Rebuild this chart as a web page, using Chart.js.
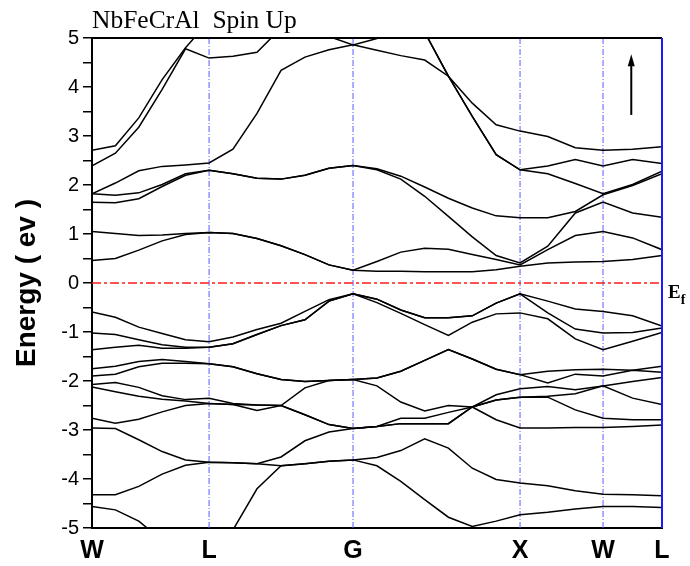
<!DOCTYPE html>
<html><head><meta charset="utf-8">
<script src="https://cdn.jsdelivr.net/npm/chart.js@4.4.1/dist/chart.umd.min.js"></script>
<style>html,body{margin:0;padding:0;background:#fff}#wrap{width:690px;height:566px;position:relative}</style>
</head><body><div id="wrap"><canvas id="c" width="690" height="566"></canvas></div>
<script>
// k-path distance of each computed k-point
const kPath = [0, 0.140, 0.280, 0.420, 0.560, 0.701, 0.844, 0.988, 1.132, 1.275, 1.419, 1.563,
  1.706, 1.849, 1.992, 2.134, 2.277, 2.420, 2.563, 2.729, 2.894, 3.060, 3.237, 3.413];
// high-symmetry points
const symPoints = [0, 0.701, 1.563, 2.563, 3.060, 3.413];
const symLabels = ['W', 'L', 'G', 'X', 'W', 'L'];
const yTicks = [5, 4, 3, 2, 1, 0, -1, -2, -3, -4, -5];
const fermiLevel = 0;
const arrowK = 3.229, arrowFrom = 3.43, arrowTo = 4.67;

// band energies (eV), lowest to highest
const band01 = [-4.56,-4.63,-4.86,-5.25,-5.50,-5.70,-5.04,-4.20,-3.73,-3.69,-3.64,-3.61,-3.73,-4.05,-4.42,-4.78,-4.97,-4.86,-4.73,-4.68,-4.61,-4.56,-4.56,-4.58];
const band02 = [-4.32,-4.32,-4.15,-3.90,-3.72,-3.66,-3.67,-3.69,-3.73,-3.69,-3.64,-3.61,-3.56,-3.42,-3.18,-3.37,-3.78,-4.01,-4.08,-4.14,-4.24,-4.31,-4.32,-4.34];
const band03 = [-2.96,-2.97,-3.20,-3.44,-3.61,-3.66,-3.67,-3.69,-3.55,-3.22,-3.04,-2.97,-2.93,-2.87,-2.87,-2.87,-2.53,-2.79,-2.96,-2.96,-2.95,-2.95,-2.93,-2.90];
const band04 = [-2.76,-2.86,-2.78,-2.63,-2.50,-2.46,-2.48,-2.60,-2.50,-2.69,-2.89,-2.97,-2.93,-2.87,-2.87,-2.87,-2.53,-2.39,-2.33,-2.33,-2.59,-2.76,-2.79,-2.79];
const band05 = [-2.12,-2.22,-2.31,-2.37,-2.41,-2.46,-2.48,-2.49,-2.50,-2.69,-2.89,-2.97,-2.93,-2.76,-2.76,-2.64,-2.53,-2.39,-2.33,-2.31,-2.26,-2.10,-2.35,-2.48];
const band06 = [-2.07,-2.03,-2.13,-2.30,-2.38,-2.35,-2.46,-2.49,-2.50,-2.14,-1.99,-1.97,-2.10,-2.43,-2.61,-2.50,-2.53,-2.28,-2.16,-2.11,-2.18,-2.10,-2.01,-1.93];
const band07 = [-1.90,-1.86,-1.71,-1.64,-1.64,-1.65,-1.71,-1.85,-1.97,-2.01,-1.99,-1.97,-1.94,-1.80,-1.58,-1.36,-1.55,-1.76,-1.87,-2.04,-1.86,-1.90,-1.78,-1.82];
const band08 = [-1.75,-1.70,-1.60,-1.56,-1.60,-1.65,-1.71,-1.85,-1.97,-2.01,-1.99,-1.97,-1.94,-1.80,-1.58,-1.36,-1.55,-1.76,-1.87,-1.80,-1.77,-1.76,-1.78,-1.70];
const band09 = [-1.36,-1.31,-1.27,-1.33,-1.33,-1.31,-1.24,-1.05,-0.87,-0.75,-0.37,-0.22,-0.40,-0.62,-0.85,-1.07,-0.80,-0.63,-0.61,-0.73,-1.14,-1.36,-1.19,-1.01];
const band10 = [-1.02,-1.05,-1.16,-1.26,-1.31,-1.31,-1.24,-1.05,-0.87,-0.75,-0.37,-0.22,-0.33,-0.55,-0.71,-0.71,-0.67,-0.41,-0.22,-0.61,-0.94,-1.02,-1.01,-0.92];
const band11 = [-0.59,-0.70,-0.90,-1.03,-1.16,-1.20,-1.10,-0.95,-0.82,-0.58,-0.34,-0.22,-0.33,-0.55,-0.71,-0.71,-0.67,-0.41,-0.22,-0.37,-0.53,-0.58,-0.67,-0.88];
const band12 = [0.46,0.50,0.67,0.86,0.99,1.03,1.01,0.91,0.76,0.58,0.37,0.26,0.24,0.24,0.23,0.23,0.23,0.27,0.34,0.41,0.43,0.44,0.48,0.56];
const band13 = [1.05,1.01,0.97,0.98,1.01,1.03,1.01,0.91,0.76,0.58,0.37,0.26,0.44,0.63,0.71,0.69,0.58,0.48,0.37,0.68,0.97,1.05,0.92,0.68];
const band14 = [1.65,1.64,1.72,1.97,2.20,2.30,2.23,2.14,2.12,2.20,2.34,2.40,2.31,2.12,1.77,1.36,0.94,0.56,0.41,0.75,1.43,1.65,1.43,1.34];
const band15 = [1.82,1.79,1.84,2.01,2.23,2.30,2.23,2.14,2.12,2.20,2.34,2.40,2.33,2.18,1.96,1.73,1.53,1.37,1.33,1.33,1.46,1.80,1.99,2.23];
const band16 = [1.82,2.04,2.29,2.38,2.41,2.45,2.73,3.46,4.34,4.61,4.76,4.86,4.75,4.64,4.55,4.22,3.40,2.62,2.31,2.23,2.03,1.82,2.01,2.28];
const band17 = [2.39,2.65,3.18,3.95,4.78,4.59,4.63,4.71,5.20,5.15,5.03,4.86,4.99,5.30,5.12,4.22,3.40,2.62,2.31,2.39,2.52,2.39,2.52,2.44];
const band18 = [2.71,2.80,3.37,4.15,4.80,5.35,5.60,5.70,5.60,5.50,5.40,5.30,5.50,5.60,5.12,4.22,3.67,3.23,3.10,2.99,2.76,2.71,2.73,2.78];

const bandList = [band01,band02,band03,band04,band05,band06,band07,band08,band09,band10,band11,band12,band13,band14,band15,band16,band17,band18];
const kMin = symPoints[0], kMax = symPoints[symPoints.length - 1];

const datasets = [];
bandList.forEach(b => {
  datasets.push({
    data: b.map((e, i) => ({x: kPath[i], y: e})),
    borderColor: '#000', borderWidth: 1.5, pointRadius: 0, tension: 0, fill: false, order: 0
  });
});
// high-symmetry separators
symPoints.slice(1, -1).forEach(k => {
  datasets.push({
    data: [{x: k, y: -5}, {x: k, y: 5}],
    borderColor: '#5a5aff', borderWidth: 1, borderDash: [6, 2, 1, 2], pointRadius: 0, order: 2
  });
});
// Fermi level
datasets.push({
  data: [{x: kMin, y: fermiLevel}, {x: kMax, y: fermiLevel}],
  borderColor: '#ff1a1a', borderWidth: 1.7, borderDash: [9, 3, 3, 3], pointRadius: 0, order: 1
});

const decor = {
  id: 'decor',
  afterDraw(chart) {
    const {ctx, chartArea: a, scales: {x, y}} = chart;
    ctx.save();
    // top frame
    ctx.strokeStyle = '#000'; ctx.lineWidth = 2;
    ctx.beginPath(); ctx.moveTo(a.left - 1, a.top); ctx.lineTo(a.right, a.top); ctx.stroke();
    // right frame (blue)
    ctx.strokeStyle = '#1a1aff'; ctx.lineWidth = 2;
    ctx.beginPath(); ctx.moveTo(a.right, a.top); ctx.lineTo(a.right, a.bottom); ctx.stroke();
    // spin arrow
    const ax = x.getPixelForValue(arrowK), y0 = y.getPixelForValue(arrowFrom), y1 = y.getPixelForValue(arrowTo);
    ctx.strokeStyle = '#000'; ctx.fillStyle = '#000'; ctx.lineWidth = 2;
    ctx.beginPath(); ctx.moveTo(ax, y0); ctx.lineTo(ax, y1 + 8); ctx.stroke();
    ctx.beginPath(); ctx.moveTo(ax, y1); ctx.lineTo(ax - 3.5, y1 + 12); ctx.lineTo(ax + 3.5, y1 + 12); ctx.closePath(); ctx.fill();
    // title
    ctx.fillStyle = '#000'; ctx.textBaseline = 'alphabetic'; ctx.textAlign = 'left';
    ctx.font = '25.5px "Liberation Serif"';
    ctx.fillText('NbFeCrAl  Spin Up', a.left, 28);
    // E_f label
    const yf = y.getPixelForValue(fermiLevel);
    ctx.font = 'bold 19px "Liberation Serif"';
    ctx.fillText('E', a.right + 6, yf + 15);
    const w = ctx.measureText('E').width;
    ctx.font = 'bold 14px "Liberation Serif"';
    ctx.fillText('f', a.right + 6 + w, yf + 21);
    ctx.restore();
  }
};

new Chart(document.getElementById('c'), {
  type: 'line',
  data: {datasets},
  plugins: [decor],
  options: {
    responsive: false, animation: false, devicePixelRatio: 1,
    layout: {padding: {top: 38, right: 28, left: 0, bottom: 0}},
    plugins: {legend: {display: false}, tooltip: {enabled: false}, title: {display: false}},
    scales: {
      x: {
        type: 'linear', min: kMin, max: kMax,
        afterBuildTicks: s => { s.ticks = symPoints.map(v => ({value: v})); },
        afterFit: s => { s.height = 38; },
        grid: {display: false},
        border: {display: true, color: '#000', width: 2},
        ticks: {
          autoSkip: false, maxRotation: 0, padding: 0, color: '#000',
          font: {family: '"Liberation Sans"', size: 25, weight: 'bold'},
          callback: (v, i) => symLabels[i]
        }
      },
      y: {
        min: -5, max: 5,
        afterBuildTicks: s => {
          const t = [];
          yTicks.forEach(v => t.push({value: v}));
          yTicks.slice(0, -1).forEach(v => t.push({value: v - 0.5}));
          t.sort((p, q) => p.value - q.value);
          s.ticks = t;
        },
        afterFit: s => { s.width = 92; },
        grid: {drawOnChartArea: false, tickLength: 9, color: '#000', lineWidth: 1.5},
        border: {display: true, color: '#000', width: 2},
        ticks: {
          autoSkip: false, padding: 4, color: '#000',
          font: {family: '"Liberation Sans"', size: 20},
          callback: v => (yTicks.includes(v) ? String(v) : '')
        },
        title: {
          display: true, text: 'Energy ( ev )', color: '#000',
          font: {family: '"Liberation Sans"', size: 28, weight: 'bold'},
          padding: {top: 10, bottom: 0}
        }
      }
    }
  }
});
</script></body></html>
